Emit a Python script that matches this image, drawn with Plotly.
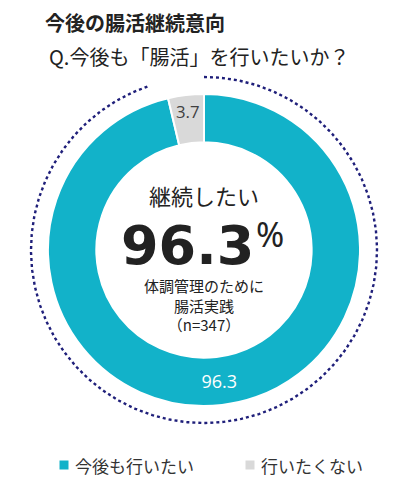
import numpy as np
import plotly.graph_objects as go

# data
labels = ["今後も行いたい", "行いたくない"]
values = [96.3, 3.7]
colors = ["#12b2c9", "#d9d9d9"]
text_colors = ["#ffffff", "#404040"]

W, H = 400, 497
OFF = 8  # page body margin, pull everything up/left by this much
cx, cy, r_out = 204 - OFF, 250 - OFF, 156
r_dot = 173

fig = go.Figure()

fig.add_trace(go.Pie(
    labels=labels, values=values,
    hole=0.69, sort=False, direction="clockwise", rotation=0,
    marker=dict(colors=colors, line=dict(color="white", width=2)),
    textinfo="value", textposition="inside", insidetextorientation="horizontal",
    textfont=dict(size=18, color=text_colors, family="Open Sans"),
    domain=dict(x=[(cx - r_out) / W, (cx + r_out) / W],
                y=[1 - (cy + r_out) / H, 1 - (cy - r_out) / H]),
    showlegend=False,
))

# dotted ring round the donut, open near the top left
t = np.linspace(np.radians(90), np.radians(90 - 341), 400)
fig.add_trace(go.Scatter(
    x=cx + r_dot * np.cos(t), y=cy - r_dot * np.sin(t),
    mode="lines", line=dict(color="#1f1f7a", width=2.4, dash="dot"),
    hoverinfo="skip", showlegend=False,
))

font = "Noto Sans CJK JP"

# legend drawn by hand: square marker + label
leg_x = [64 - OFF, 250 - OFF]
leg_y = 465 - OFF
fig.add_trace(go.Scatter(
    x=leg_x, y=[leg_y, leg_y], mode="markers",
    marker=dict(symbol="square", size=9, color=colors),
    hoverinfo="skip", showlegend=False,
))
for i, lab in enumerate(labels):
    fig.add_annotation(x=leg_x[i] + 9, y=leg_y, xref="x", yref="y", text=lab,
                       showarrow=False, xanchor="left", yanchor="middle",
                       font=dict(size=17, color="#333333", family=font))

ann = [
    dict(x=43, y=22, text="<b>今後の腸活継続意向</b>", size=20, xanchor="left", fam=font),
    dict(x=47, y=56, text="Q.今後も「腸活」を行いたいか？", size=20, xanchor="left", fam=font),
    dict(x=204, y=195, text="継続したい", size=22, xanchor="center", fam=font),
    dict(x=187, y=245, text="<b>96.3</b>", size=54, xanchor="center", fam="DejaVu Sans"),
    dict(x=270, y=234, text="%", size=34, xanchor="center", fam="Noto Sans"),
    dict(x=204, y=305, text="体調管理のために<br>腸活実践<br>（n=347）", size=15,
         xanchor="center", fam=font),
]
for a in ann:
    fig.add_annotation(x=a["x"] - OFF, y=a["y"] - OFF, xref="x", yref="y", text=a["text"],
                       showarrow=False, xanchor=a["xanchor"], yanchor="middle",
                       font=dict(size=a["size"], color="#222222", family=a["fam"]))

fig.update_layout(
    width=W, height=H, margin=dict(l=0, r=0, t=0, b=0),
    paper_bgcolor="white", plot_bgcolor="white",
    font=dict(family=font, color="#333333"),
    xaxis=dict(range=[0, W], visible=False, fixedrange=True),
    yaxis=dict(range=[H, 0], visible=False, fixedrange=True),
    showlegend=False,
)

fig.write_html("out.html")
